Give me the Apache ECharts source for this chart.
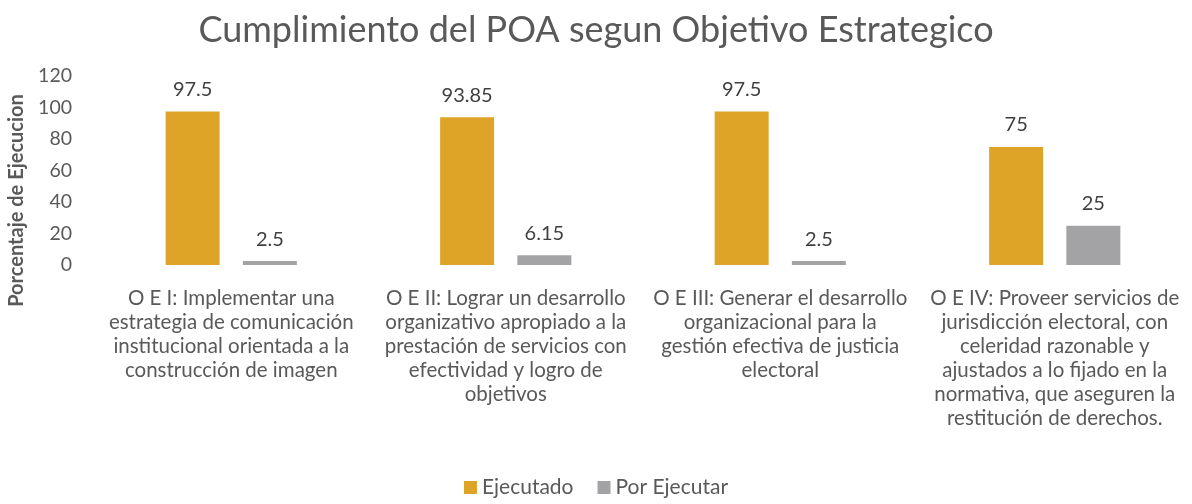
<!DOCTYPE html>
<html>
<head>
<meta charset="utf-8">
<script src="https://cdn.jsdelivr.net/npm/echarts@6/dist/echarts.min.js"></script>
<style>html,body{margin:0;padding:0;background:#fff;}#c{width:1192px;height:504px;}</style>
</head>
<body>
<div id="c"></div>
<script>
const titleText = 'Cumplimiento del POA segun Objetivo Estrategico';
const categories = [
  'O E I: Implementar una\nestrategia de comunicación\ninstitucional orientada a la\nconstrucción de imagen',
  'O E II: Lograr un desarrollo\norganizativo apropiado a la\nprestación de servicios con\nefectividad y logro de\nobjetivos',
  'O E III: Generar el desarrollo\norganizacional para la\ngestión efectiva de justicia\nelectoral',
  'O E IV: Proveer servicios de\njurisdicción electoral, con\nceleridad razonable y\najustados a lo fijado en la\nnormativa, que aseguren la\nrestitución de derechos.'
];
const ejecutado = [97.5, 93.85, 97.5, 75];
const porEjecutar = [2.5, 6.15, 2.5, 25];
const seriesNames = ['Ejecutado', 'Por Ejecutar'];
const yAxisName = 'Porcentaje de Ejecucion';

const font = 'Lato, Carlito, "Noto Sans", sans-serif';
const chart = echarts.init(document.getElementById('c'));
const labelStyle = {show: true, position: 'top', distance: 12, fontSize: 20, color: '#404040', fontFamily: font};
chart.setOption({
  animation: false,
  title: {
    text: titleText, left: 'center', top: 7,
    textStyle: {fontSize: 36, fontWeight: 'normal', color: '#595959', fontFamily: font}
  },
  legend: {
    bottom: 1, left: 'center', itemWidth: 13, itemHeight: 13, itemGap: 24,
    icon: 'rect',
    textStyle: {fontSize: 21, color: '#595959', fontFamily: font}
  },
  grid: {left: 94, right: 0, top: 76, bottom: 239, containLabel: false, outerBoundsMode: 'none'},
  xAxis: {
    type: 'category', data: categories,
    axisLine: {show: false}, axisTick: {show: false},
    axisLabel: {interval: 0, fontSize: 20.5, lineHeight: 24, color: '#595959', fontFamily: font, margin: 21, align: 'center'}
  },
  yAxis: {
    type: 'value', min: 0, max: 120, interval: 20,
    name: yAxisName, nameLocation: 'middle', nameGap: 67, nameRotate: 90,
    nameTextStyle: {fontSize: 20, fontWeight: 'bold', color: '#595959', fontFamily: font, padding: [0, 60, 0, 0]},
    axisLine: {show: false}, axisTick: {show: false},
    splitLine: {show: false},
    axisLabel: {fontSize: 19.5, color: '#595959', fontFamily: font, margin: 22}
  },
  series: [
    {name: seriesNames[0], type: 'bar', data: ejecutado, barWidth: 54, barGap: '43%',
     itemStyle: {color: '#DEA427'}, label: labelStyle},
    {name: seriesNames[1], type: 'bar', data: porEjecutar, barWidth: 54,
     itemStyle: {color: '#A3A3A5'}, label: labelStyle}
  ]
});
</script>
</body>
</html>
